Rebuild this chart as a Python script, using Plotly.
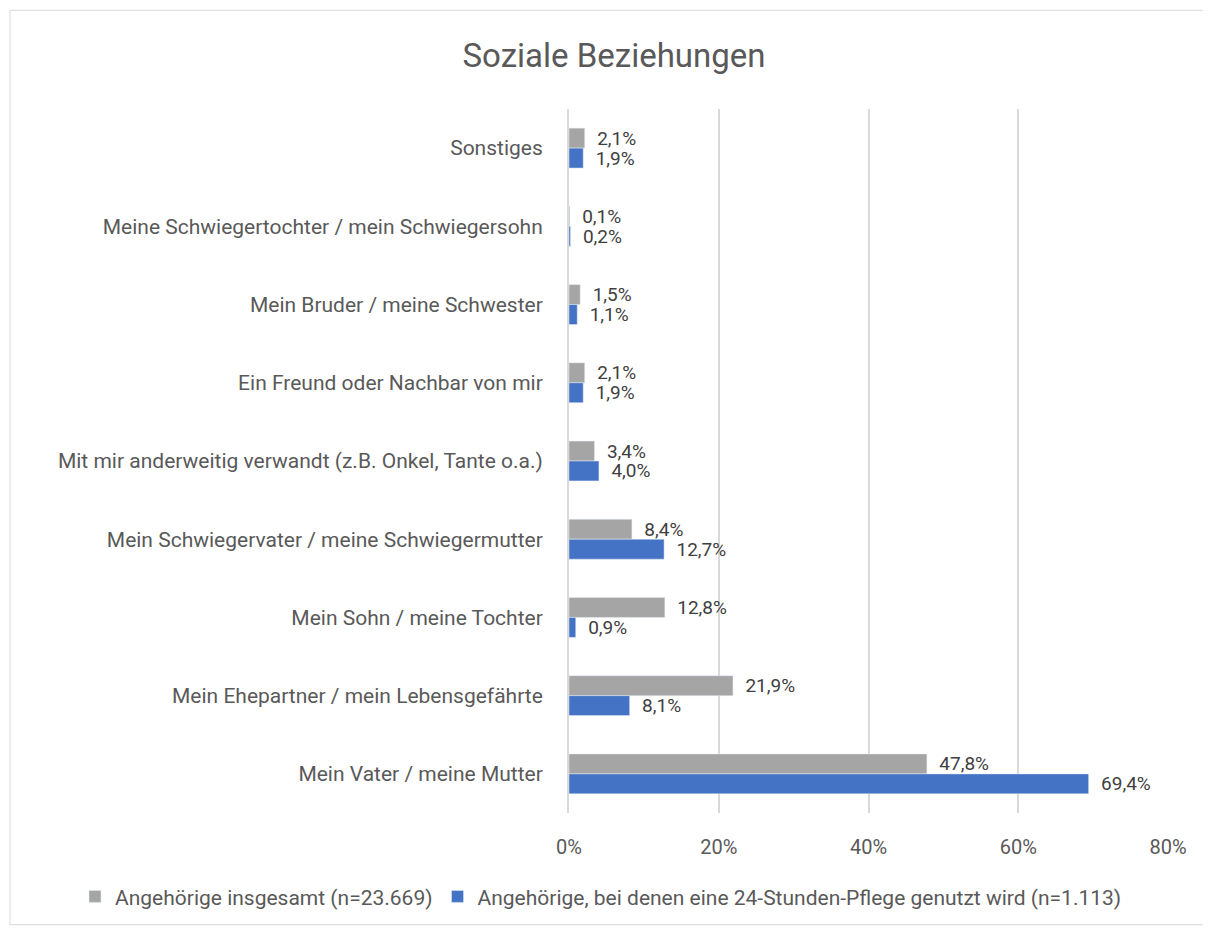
import plotly.graph_objects as go

# categories listed top to bottom, as they appear in the chart
categories = [
    "Sonstiges",
    "Meine Schwiegertochter / mein Schwiegersohn",
    "Mein Bruder / meine Schwester",
    "Ein Freund oder Nachbar von mir",
    "Mit mir anderweitig verwandt (z.B. Onkel, Tante o.a.)",
    "Mein Schwiegervater / meine Schwiegermutter",
    "Mein Sohn / meine Tochter",
    "Mein Ehepartner / mein Lebensgefährte",
    "Mein Vater / meine Mutter",
]
insgesamt = [2.1, 0.1, 1.5, 2.1, 3.4, 8.4, 12.8, 21.9, 47.8]
pflege_24h = [1.9, 0.2, 1.1, 1.9, 4.0, 12.7, 0.9, 8.1, 69.4]
series_names = [
    "Angehörige insgesamt (n=23.669)",
    "Angehörige, bei denen eine 24-Stunden-Pflege genutzt wird (n=1.113)",
]
x_ticks = [0, 20, 40, 60, 80]

FONT = "Roboto"
GREY_TXT = "#595959"
LABEL_TPL = "\u00a0\u00a0%{x:.1f}%"

# page body has an 8px margin, so the figure is a bit smaller than the window
W, H = 1203, 921
L, R, T, B = 561, 1160, 101, 807   # plot area in figure pixels
PW, PH = R - L, B - T

fig = go.Figure()
fig.add_trace(go.Bar(
    y=categories, x=insgesamt, orientation="h", name=series_names[0],
    marker_color="#A5A5A5", texttemplate=LABEL_TPL, textposition="outside",
    constraintext="none",
    textfont=dict(color="#404040", size=19, family=FONT), cliponaxis=False,
))
fig.add_trace(go.Bar(
    y=categories, x=pflege_24h, orientation="h", name=series_names[1],
    marker_color="#4472C4", texttemplate=LABEL_TPL, textposition="outside",
    constraintext="none",
    textfont=dict(color="#404040", size=19, family=FONT), cliponaxis=False,
))

fig.update_layout(
    width=W, height=H,
    margin=dict(l=L, r=W - R, t=T, b=H - B),
    paper_bgcolor="white", plot_bgcolor="white",
    separators=",.",
    barmode="group", bargap=0.49, bargroupgap=0,
    font=dict(family=FONT, color=GREY_TXT, size=20),
    title=dict(text="Soziale Beziehungen", x=606 / W, y=1 - 47 / H,
               xanchor="center", yanchor="middle",
               font=dict(size=33, color=GREY_TXT, family=FONT)),
    legend=dict(orientation="h", xref="paper", yref="paper",
                x=(67 - L) / PW, xanchor="left",
                y=(B - 891) / PH, yanchor="middle",
                font=dict(size=21, color=GREY_TXT), traceorder="normal",
                itemwidth=30),
    showlegend=True,
)
fig.update_xaxes(range=[0, 80], tickvals=x_ticks,
                 ticktext=[f"{v}%" for v in x_ticks],
                 showgrid=True, gridcolor="#D9D9D9", gridwidth=2,
                 zeroline=False, showline=False, ticklabelstandoff=20,
                 tickfont=dict(size=20, color=GREY_TXT))
fig.update_yaxes(autorange="reversed", showgrid=False, zeroline=False,
                 showline=True, linecolor="#D9D9D9", linewidth=2,
                 ticklabelstandoff=20, tickfont=dict(size=21, color=GREY_TXT))

# thin outer chart border
fig.add_shape(type="rect", xref="paper", yref="paper",
              x0=(2 - L) / PW, x1=(W - L) / PW,
              y0=(B - 919) / PH, y1=(B - 2) / PH,
              line=dict(color="#D9D9D9", width=1), layer="below")

fig.write_html("out.html")
